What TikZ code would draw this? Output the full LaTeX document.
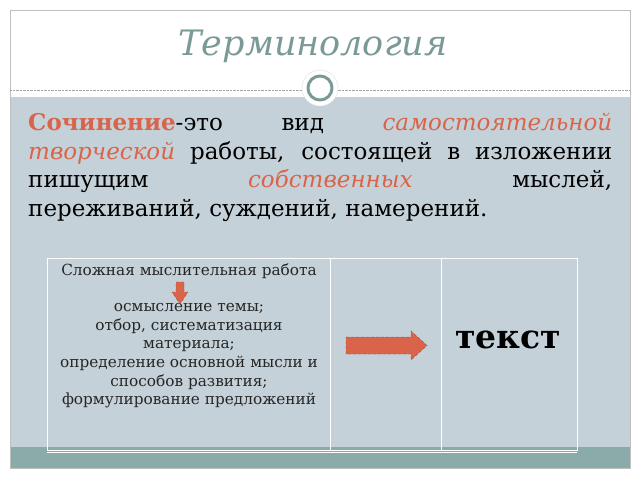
\documentclass[tikz,border=0pt]{standalone}
\usepackage{fontspec}
\setmainfont{DejaVu Serif}
\definecolor{bodygray}{HTML}{C5D1D8}
\definecolor{band}{HTML}{8BABAB}
\definecolor{titlec}{HTML}{7A9A98}
\definecolor{acc}{HTML}{D9644A}
\tikzset{
 cell/.style={font=\fontsize{15.3}{18.6}\selectfont, text=black!85, align=center},
 redarrow/.style={fill=acc, draw=acc!70!black, densely dashed, line width=0.4pt},
}
\begin{document}
\begin{tikzpicture}[x=1pt,y=-1pt]
\useasboundingbox (0,0) rectangle (640,480);
\fill[white] (0,0) rectangle (640,480);
\fill[bodygray] (10,97) rectangle (630,447);
\fill[band] (10,447) rectangle (630,468);
\draw[gray!50, line width=0.8pt] (10,10) rectangle (630,468);
\draw[gray!70, densely dotted] (10,90) -- (630,90);
\node[font=\fontsize{35}{40}\selectfont\itshape, text=titlec] (title) at (313,46) {Терминология};
\node[circle, fill=white, minimum size=36pt, inner sep=0pt, draw=gray!25] (c0) at (320,88) {};
\node[circle, draw=titlec, line width=3pt, minimum size=24pt, inner sep=0pt] (c1) at (320,88) {};
\node[anchor=north west, inner sep=0pt, font=\fontsize{23}{28.7}\selectfont, align=left] (para) at (28,113) {%
\makebox[584pt][s]{\textcolor{acc}{\textbf{Сочинение}}-это вид \textcolor{acc}{\textit{самостоятельной}}}\\
\makebox[584pt][s]{\textcolor{acc}{\textit{творческой}} работы, состоящей в изложении}\\
\makebox[584pt][s]{пишущим \textcolor{acc}{\textit{собственных}} мыслей,}\\
переживаний, суждений, намерений.};
\draw[white, line width=1pt] (47,258) rectangle (577,450);
\draw[white, line width=1pt] (330,258) -- (330,450) (441,258) -- (441,450);
\draw[white, line width=1pt] (47,452) -- (577,452);
\node[cell] (t1) at (189,271) {Сложная мыслительная работа};
\node[cell, anchor=north] (t2) at (189,300) {осмысление темы;\\отбор, систематизация\\материала;\\определение основной мысли и\\способов развития;\\формулирование предложений};
\draw[redarrow] (176,282) -- (184,282) -- (184,292) -- (188,292) -- (180,304) -- (172,292) -- (176,292) -- cycle;
\draw[redarrow] (346,337) -- (411,337) -- (411,331) -- (427,345.5) -- (411,360) -- (411,354) -- (346,354) -- cycle;
\node[font=\fontsize{33}{36}\selectfont\bfseries] (txt) at (508,340) {текст};
\end{tikzpicture}
\end{document}
